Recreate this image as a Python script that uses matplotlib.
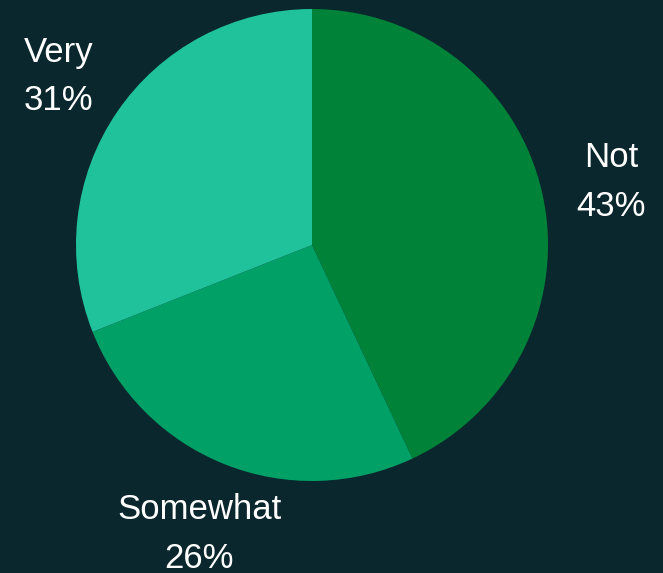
import matplotlib.pyplot as plt

labels = ['Not', 'Somewhat', 'Very']
values = [43, 26, 31]
colors = ['#008238', '#00a067', '#1fc29b']

plt.rcParams['font.family'] = ['Liberation Sans', 'DejaVu Sans']

fig = plt.figure(figsize=(6.63, 5.73), dpi=100)
fig.patch.set_facecolor('#0a272d')
ax = fig.add_axes([0, 0, 1, 1])
ax.set_facecolor('#0a272d')

texts = [f'{l}\n{v}%' for l, v in zip(labels, values)]
wedges, txt = ax.pie(values, labels=texts, colors=colors, startangle=90,
                     counterclock=False, center=(312, 328), radius=236,
                     labeldistance=1.3, frame=True,
                     textprops={'color': 'white', 'fontsize': 25,
                                'linespacing': 1.6, 'ha': 'center', 'va': 'center'})
for t in txt:
    t.set_horizontalalignment('center')
    x, y = t.get_position()
    t.set_position((x, y - 4))

ax.set_xlim(0, 663)
ax.set_ylim(0, 573)
ax.axis('off')

fig.savefig('out.png', dpi=100, facecolor=fig.get_facecolor())
